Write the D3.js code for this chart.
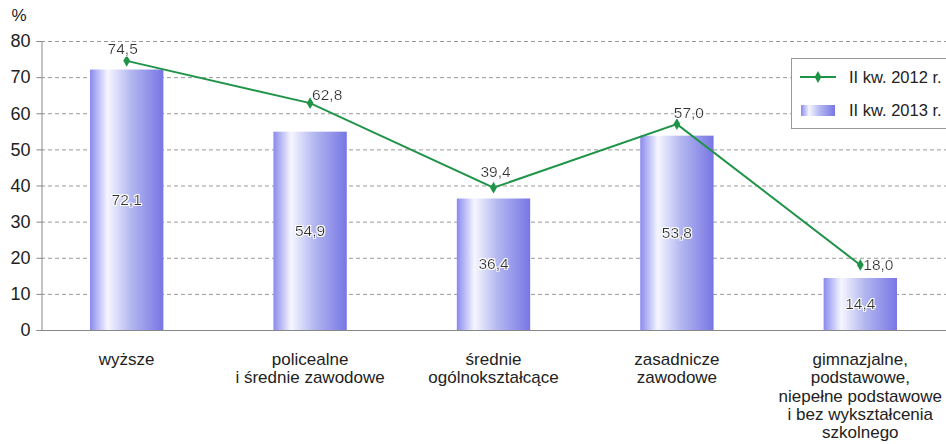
<!DOCTYPE html>
<html>
<head>
<meta charset="utf-8">
<script src="https://cdn.jsdelivr.net/npm/d3@7"></script>
<style>
  body { margin: 0; background: #fff; }
  svg { font-family: "Liberation Sans", Arial, sans-serif; }
</style>
</head>
<body>
<div id="chart"></div>
<script>
// data
var categories = [
  ["wyższe"],
  ["policealne", "i średnie zawodowe"],
  ["średnie", "ogólnokształcące"],
  ["zasadnicze", "zawodowe"],
  ["gimnazjalne,", "podstawowe,", "niepełne podstawowe", "i bez wykształcenia", "szkolnego"]
];
var values2013 = [72.1, 54.9, 36.4, 53.8, 14.4];
var values2012 = [74.5, 62.8, 39.4, 57.0, 18.0];
var yTicks = [0, 10, 20, 30, 40, 50, 60, 70, 80];
var seriesNames = ["II kw. 2012 r.", "II kw. 2013 r."];

// label placement for the line values: dx, dy, anchor
var lineLabelPos = [[-4, -7, "middle"], [2, -3, "start"], [2, -11, "middle"], [12, -6, "middle"], [3, 5.5, "start"]];

var width = 946, height = 444;
var fmt = function(v){ return d3.format(".1f")(v).replace(".", ","); };

var svg = d3.select("#chart").append("svg")
    .attr("width", width)
    .attr("height", height);

var x = d3.scaleBand()
    .domain(d3.range(categories.length))
    .range([35, 952])
    .paddingInner(0.6)
    .paddingOuter(0.3);

var y = d3.scaleLinear()
    .domain([0, 80])
    .range([330, 41]);

// bar gradient
var defs = svg.append("defs");
var grad = defs.append("linearGradient")
    .attr("id", "barGrad")
    .attr("x1", "0%").attr("x2", "100%")
    .attr("y1", "0%").attr("y2", "0%");
grad.append("stop").attr("offset", "0%").attr("stop-color", "#8a8aee");
grad.append("stop").attr("offset", "24%").attr("stop-color", "#f6f6ff");
grad.append("stop").attr("offset", "55%").attr("stop-color", "#b4b8f0");
grad.append("stop").attr("offset", "100%").attr("stop-color", "#7876e4");

var halo = defs.append("filter").attr("id", "halo");
halo.append("feMorphology").attr("in", "SourceAlpha").attr("operator", "dilate").attr("radius", 1.2).attr("result", "d");
halo.append("feFlood").attr("flood-color", "#fff");
halo.append("feComposite").attr("in2", "d").attr("operator", "in").attr("result", "w");
var fm = halo.append("feMerge");
fm.append("feMergeNode").attr("in", "w");
fm.append("feMergeNode").attr("in", "SourceGraphic");

// grid lines
svg.append("g")
    .selectAll("line")
    .data(yTicks.filter(function(d){ return d > 0; }))
    .enter().append("line")
    .attr("x1", 41).attr("x2", width)
    .attr("y1", function(d){ return y(d) + 0.5; })
    .attr("y2", function(d){ return y(d) + 0.5; })
    .style("stroke", "#999")
    .style("stroke-dasharray", "4,3");

// y axis
var yAxis = svg.append("g")
    .attr("transform", "translate(41.5,0)")
    .call(d3.axisLeft(y).tickValues(yTicks).tickSize(5).tickPadding(6));
yAxis.select(".domain").style("stroke", "#888");
yAxis.selectAll(".tick line").style("stroke", "#888");
yAxis.selectAll(".tick text")
    .style("font-size", "18px")
    .style("fill", "#222")
    .style("font-family", "Liberation Sans, Arial, sans-serif");

svg.append("text")
    .attr("x", 19).attr("y", 21)
    .attr("text-anchor", "middle")
    .style("font-size", "17px")
    .style("fill", "#222")
    .text("%");

// bars
svg.append("g")
    .selectAll("rect")
    .data(values2013)
    .enter().append("rect")
    .attr("x", function(d, i){ return x(i); })
    .attr("width", x.bandwidth())
    .attr("y", function(d){ return y(d); })
    .attr("height", function(d){ return y(0) - y(d); })
    .style("fill", "url(#barGrad)");

// x axis line
svg.append("line")
    .attr("x1", 41).attr("x2", width)
    .attr("y1", 330.5).attr("y2", 330.5)
    .style("stroke", "#888");

// bar value labels
svg.append("g")
    .selectAll("text")
    .data(values2013)
    .enter().append("text")
    .attr("x", function(d, i){ return x(i) + x.bandwidth() / 2; })
    .attr("y", function(d){ return (y(d) + y(0)) / 2 + 5; })
    .attr("text-anchor", "middle")
    .attr("filter", "url(#halo)")
    .style("font-size", "15.5px")
    .style("fill", "#333")
    .text(fmt);

// line
var cx = function(d, i){ return x(i) + x.bandwidth() / 2; };
var line = d3.line()
    .x(function(d, i){ return cx(d, i); })
    .y(function(d){ return y(d); });

svg.append("path")
    .datum(values2012)
    .attr("d", line)
    .style("fill", "none")
    .style("stroke", "#1f9448")
    .style("stroke-width", 2);

svg.append("g")
    .selectAll("path")
    .data(values2012)
    .enter().append("path")
    .attr("d", d3.symbol().type(d3.symbolDiamond).size(40))
    .attr("transform", function(d, i){ return "translate(" + cx(d, i) + "," + y(d) + ")"; })
    .style("fill", "#1f9448");

svg.append("g")
    .selectAll("text")
    .data(values2012)
    .enter().append("text")
    .attr("x", function(d, i){ return cx(d, i) + lineLabelPos[i][0]; })
    .attr("y", function(d, i){ return y(d) + lineLabelPos[i][1]; })
    .attr("text-anchor", function(d, i){ return lineLabelPos[i][2]; })
    .attr("filter", "url(#halo)")
    .style("font-size", "15.5px")
    .style("fill", "#333")
    .text(fmt);

// category labels
var cat = svg.append("g")
    .selectAll("text")
    .data(categories)
    .enter().append("text")
    .attr("text-anchor", "middle")
    .style("font-size", "17px")
    .style("fill", "#222");
cat.selectAll("tspan")
    .data(function(d, i){ return d.map(function(s){ return {s: s, i: i}; }); })
    .enter().append("tspan")
    .attr("x", function(d){ return x(d.i) + x.bandwidth() / 2; })
    .attr("y", function(d, j){ return 365 + j * 18.3; })
    .text(function(d){ return d.s; });

// legend
var lg = svg.append("g");
lg.append("rect")
    .attr("x", 791.5).attr("y", 58.5)
    .attr("width", 170).attr("height", 70)
    .style("fill", "#fff")
    .style("stroke", "#999");
lg.append("line")
    .attr("x1", 800).attr("x2", 836)
    .attr("y1", 77).attr("y2", 77)
    .style("stroke", "#1f9448")
    .style("stroke-width", 2);
lg.append("path")
    .attr("d", d3.symbol().type(d3.symbolDiamond).size(40))
    .attr("transform", "translate(818,77)")
    .style("fill", "#1f9448");
lg.append("rect")
    .attr("x", 801).attr("y", 105)
    .attr("width", 34).attr("height", 11)
    .style("fill", "url(#barGrad)");
lg.selectAll("text.lgtext")
    .data(seriesNames)
    .enter().append("text")
    .attr("class", "lgtext")
    .attr("x", 849)
    .attr("y", function(d, i){ return 83 + i * 33; })
    .style("font-size", "16.5px")
    .style("fill", "#222")
    .text(function(d){ return d; });
</script>
</body>
</html>
